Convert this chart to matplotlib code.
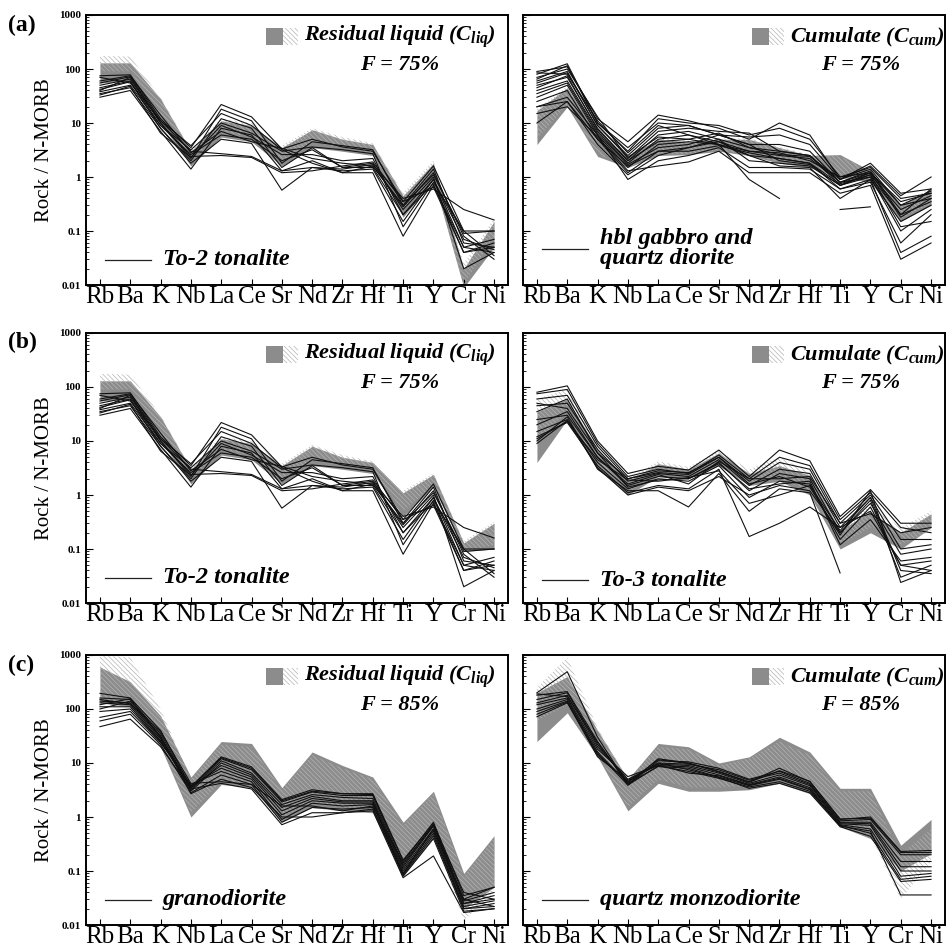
import matplotlib
matplotlib.use('Agg')
import matplotlib.pyplot as plt
import numpy as np
from matplotlib.ticker import LogLocator, NullFormatter

nan = np.nan

elements = ['Rb', 'Ba', 'K', 'Nb', 'La', 'Ce', 'Sr', 'Nd', 'Zr', 'Hf', 'Ti', 'Y', 'Cr', 'Ni']
ytick_vals = [0.01, 0.1, 1, 10, 100, 1000]
ytick_labels = ['0.01', '0.1', '1', '10', '100', '1000']

# sample patterns normalised to N-MORB
to2_tonalite = [
    [75, 78, 12, 3.5, 22, 13, 3.3, 5.0, 3.6, 3.0, 0.35, 1.6, 0.10, 0.035],
    [40, 70, 10, 2.2, 18, 11, 1.8, 4.5, 3.8, 3.2, 0.30, 1.4, 0.06, 0.05],
    [35, 45, 8, 2.0, 12, 8, 1.5, 3.5, 1.5, 1.8, 0.25, 1.0, 0.02, 0.04],
    [30, 40, 7, 1.4, 8, 6, 1.3, 2.0, 1.2, 1.2, 0.08, 0.7, 0.05, 0.04],
    [45, 60, 9, 2.6, 6, 5, 2.0, 3.2, 1.5, 1.5, 0.20, 0.9, 0.07, 0.045],
    [70, 55, 11, 3.0, 2.7, 2.4, 1.3, 1.5, 1.4, 1.7, 0.40, 0.6, 0.25, 0.16],
    [50, 65, 10, 2.4, 2.5, 2.3, 1.2, 1.3, 1.6, 1.9, 0.35, 0.65, 0.04, 0.06],
    [38, 50, 9, 3.2, 10, 6.5, 3.0, 3.6, 3.2, 2.7, 0.12, 0.8, 0.10, 0.10],
    [60, 75, 14, 2.8, 7, 4.5, 3.4, 2.2, 1.8, 1.6, 0.28, 1.2, 0.08, 0.03],
    [42, 58, 8, 1.8, 5, 4.2, 0.57, 1.5, 1.3, 1.4, 0.15, 0.9, 0.05, 0.07],
    [33, 48, 6.5, 2.3, 9, 5.5, 2.6, 2.6, 2.0, 2.2, 0.20, 0.75, 0.04, 0.05],
    [55, 72, 11, 3.8, 15, 9, 3.2, 1.8, 1.2, 1.6, 0.30, 1.1, 0.09, 0.10],
]

gabbro_diorite = [
    [90, 110, 12, 4.5, 14, 11, 8, 5, 10, 6, 0.9, 1.8, 0.5, 0.6],
    [80, 125, 10, 3.0, 12, 10, 9, 6, 8, 5, 1.0, 1.5, 0.4, 0.5],
    [60, 90, 9, 2.5, 8, 9, 6, 4, 4, 3, 0.8, 1.2, 0.3, 0.4],
    [50, 70, 8, 2.0, 6, 7, 5, 3.5, 3, 2.5, 0.7, 1.1, 0.25, 0.45],
    [40, 60, 7, 1.8, 5, 6, 4.5, 3, 2.5, 2.2, 0.8, 1.0, 0.2, 0.35],
    [30, 50, 6, 1.5, 4, 4.5, 4, 2.5, 2.2, 1.8, 0.6, 0.9, 0.15, 0.3],
    [25, 40, 5, 1.2, 3, 3.5, 5, 2, 1.8, 1.6, 0.7, 1.0, 0.1, 0.25],
    [20, 30, 6, 0.9, 2, 2.5, 3.5, 1.5, 1.5, 1.4, 0.6, 0.8, 0.06, 0.2],
    [15, 20, 5.5, 1.3, 1.6, 1.9, 3.0, 1.2, 1.2, 1.2, 0.5, 0.7, 0.03, 0.06],
    [70, 100, 13, 2.2, 7, 8, 7, 6.5, 3, 2.5, 0.8, 1.3, 0.2, 0.6],
    [85, 80, 11, 2.8, 9, 6, 4, 3, 2.8, 2.0, 1.0, 1.2, 0.35, 0.5],
    [45, 75, 7.5, 2.0, 4.5, 5, 4, 0.9, 0.4, nan, nan, nan, nan, nan],
    [35, 55, 6.5, 1.7, 3.5, 4.0, 6, 4, 2, 1.7, 0.7, 1.2, 0.18, 0.4],
    [55, 85, 9, 2.3, 5.5, 5, 6.5, 3.5, 2.6, 2.4, 0.9, 1.4, 0.3, 0.55],
    [nan, nan, nan, nan, nan, nan, nan, nan, nan, nan, 0.25, 0.28, nan, nan],
    [20, 25, 4, 1.1, 2.5, 3.5, 4.5, 2.5, 1.6, 1.5, 0.4, 0.9, 0.04, 0.08],
    [65, 115, 10, 3.5, 10, 9, 6, 5.5, 6, 4, 0.9, 1.6, 0.45, 1.0],
    [10, 25, 5, 1.6, 3, 3, 3.8, 2.8, 2.2, 1.8, 0.75, 1.1, 0.12, 0.15],
]

to3_tonalite = [
    [80, 105, 10, 2.5, 3.4, 2.9, 6.8, 2.2, 6.8, 4.3, 0.4, 1.26, 0.3, 0.3],
    [75, 90, 9, 2.2, 3.0, 2.5, 5.5, 2.0, 5.0, 3.5, 0.35, 1.1, 0.25, 0.2],
    [60, 70, 8, 2.0, 2.6, 2.4, 5.0, 1.8, 4.0, 3.0, 0.3, 1.0, 0.15, 0.15],
    [45, 50, 7, 1.8, 2.5, 2.2, 4.5, 1.5, 3.0, 2.5, 0.25, 0.9, 0.1, 0.12],
    [25, 30, 5, 1.5, 2.2, 2.0, 4.0, 1.2, 2.5, 2.0, 0.2, 0.7, 0.08, 0.1],
    [15, 25, 4, 1.3, 2.0, 1.8, 3.5, 0.9, 1.8, 1.6, 0.15, 0.6, 0.05, 0.06],
    [12, 22, 3.5, 1.1, 1.5, 1.3, 3.0, 0.17, 0.3, 0.6, 0.25, 0.5, 0.05, 0.04],
    [10, 28, 3.0, 1.2, 1.2, 0.6, 2.5, 0.5, 1.3, 1.1, 0.036, nan, nan, nan],
    [9, 24, 3.2, 1.0, 1.4, 1.2, 2.2, 1.0, 1.5, 1.2, 0.2, 0.8, 0.03, 0.05],
    [50, 40, 6, 2.0, 2.8, 2.6, 5.0, 1.6, 2.2, 1.4, 0.18, 1.2, 0.024, 0.04],
    [20, 35, 5, 1.6, 2.4, 1.6, 4.2, 2.0, 2.0, 2.2, 0.3, 0.45, 0.2, 0.25],
    [35, 60, 6, 1.4, 1.9, 2.0, 3.8, 1.3, 1.6, 1.8, 0.12, 0.35, 0.06, 0.07],
    [11, 23, 4.5, 1.9, 1.8, 2.1, 2.8, 0.7, 1.0, 1.5, 0.22, 0.9, 0.04, 0.035],
]

granodiorite = [
    [195, 160, 40, 3.6, 13, 8.5, 2.1, 3.2, 2.7, 2.7, 0.16, 0.75, 0.03, 0.05],
    [160, 150, 35, 3.4, 12, 7.5, 1.9, 2.9, 2.5, 2.5, 0.13, 0.7, 0.028, 0.04],
    [140, 130, 30, 3.2, 11, 6.5, 1.7, 2.6, 2.3, 2.2, 0.12, 0.68, 0.025, 0.035],
    [130, 120, 28, 3.0, 10, 6, 1.5, 2.4, 2.0, 2.0, 0.11, 0.6, 0.025, 0.03],
    [110, 110, 26, 3.5, 9, 5.5, 1.3, 2.2, 1.9, 1.9, 0.10, 0.55, 0.022, 0.028],
    [90, 100, 25, 3.8, 8, 5, 1.1, 2.0, 1.8, 1.8, 0.09, 0.5, 0.02, 0.025],
    [70, 90, 24, 4.0, 7, 4.5, 0.9, 1.8, 1.6, 1.7, 0.085, 0.45, 0.02, 0.022],
    [60, 80, 22, 2.8, 6, 4.0, 0.8, 1.5, 1.4, 1.5, 0.08, 0.4, 0.018, 0.02],
    [47, 65, 20, 3.3, 4.2, 3.3, 0.72, 1.2, 1.2, 1.3, 0.075, 0.19, 0.017, 0.02],
    [100, 140, 32, 2.7, 5, 3.5, 1.0, 1.0, 1.2, 1.4, 0.09, 0.6, 0.03, 0.022],
    [150, 125, 38, 4.2, 4.5, 4, 1.6, 1.6, 1.3, 1.6, 0.14, 0.72, 0.04, 0.03],
    [120, 155, 30, 3.6, 12.5, 8, 2.0, 3.0, 2.7, 2.6, 0.15, 0.8, 0.035, 0.05],
]

qz_monzodiorite = [
    [200, 490, 30, 4.0, 12, 10, 7, 4.5, 8, 4.5, 0.9, 1.0, 0.23, 0.24],
    [180, 210, 25, 3.9, 11, 10.5, 8, 5, 7, 4.2, 0.85, 0.9, 0.2, 0.2],
    [150, 200, 22, 4.5, 10, 9.5, 7.5, 4.8, 6.5, 4, 0.8, 0.8, 0.15, 0.15],
    [130, 180, 20, 5.0, 9.5, 9, 6.5, 4.2, 6, 3.8, 0.78, 0.75, 0.12, 0.12],
    [120, 160, 18, 5.6, 9, 8.5, 6, 4, 5.5, 3.5, 0.75, 0.7, 0.1, 0.1],
    [100, 150, 16, 4.2, 8.6, 8, 5.5, 3.8, 5, 3.2, 0.72, 0.6, 0.08, 0.09],
    [90, 140, 15, 3.9, 8.8, 7, 5.2, 3.6, 4.5, 3.0, 0.7, 0.5, 0.07, 0.08],
    [72, 130, 14, 4.5, 10, 7.5, 5.4, 3.4, 4.2, 2.8, 0.66, 0.44, 0.064, 0.07],
    [80, 135, 13, 4.8, 9.2, 6.5, 5.8, 3.9, 5.2, 3.3, 0.68, 0.55, 0.036, 0.036],
    [190, 170, 24, 4.4, 11.5, 9.8, 6.8, 4.4, 7.2, 4.6, 0.92, 0.95, 0.22, 0.22],
]

# model envelopes: solid grey band and hatched band (low, high)
liq75a_grey_lo = [55, 60, 10, 1.6, 5.5, 4.5, 1.6, 3.5, 3.0, 2.5, 0.18, 0.9, 0.009, 0.05]
liq75a_grey_hi = [130, 130, 28, 3.0, 11, 9, 3.5, 7.5, 5, 4, 0.45, 1.8, 0.02, 0.15]
liq75a_hatch_lo = [90, 90, 14, 2.0, 7, 5.5, 2.0, 4.5, 3.5, 2.8, 0.25, 1.0, 0.01, 0.08]
liq75a_hatch_hi = [175, 170, 30, 3.2, 12, 10, 3.8, 8, 5.5, 4.2, 0.5, 2.0, 0.025, 0.17]

cum75a_grey_lo = [4.0, 20, 2.4, 1.5, 2.5, 2.6, 3.0, 2.5, 1.8, 1.5, 1.0, 0.8, 0.15, 0.3]
cum75a_grey_hi = [17, 45, 6, 2.5, 5, 4.5, 5, 5, 3.5, 2.5, 2.6, 1.3, 0.3, 0.6]
cum75a_hatch_lo = [5, 22, 2.6, 1.6, 2.6, 2.7, 3.1, 2.6, 1.9, 1.6, 0.9, 0.8, 0.17, 0.32]
cum75a_hatch_hi = [18, 48, 6.2, 2.6, 5.2, 4.7, 5.2, 5.2, 3.6, 2.6, 2.4, 1.35, 0.32, 0.62]

liq75b_grey_lo = [55, 60, 10, 1.6, 5.5, 4.5, 1.6, 3.5, 3.0, 2.5, 0.40, 1.4, 0.09, 0.10]
liq75b_grey_hi = [130, 130, 28, 3.0, 11, 9, 3.5, 8, 5, 4, 1.1, 2.4, 0.13, 0.30]
liq75b_hatch_lo = [90, 90, 14, 2, 7, 5.5, 2, 4.5, 3.5, 2.8, 0.5, 1.5, 0.09, 0.12]
liq75b_hatch_hi = [175, 170, 30, 3.2, 12, 10, 3.8, 8.5, 5.5, 4.2, 1.2, 2.5, 0.14, 0.32]

cum75b_grey_lo = [4, 25, 3.0, 1.0, 2.2, 2.0, 3.5, 1.5, 1.8, 1.0, 0.10, 0.20, 0.10, 0.25]
cum75b_grey_hi = [35, 60, 7, 1.8, 3.8, 3.0, 6.0, 2.5, 3.5, 2.3, 0.22, 0.5, 0.20, 0.45]
cum75b_hatch_lo = [10, 35, 3.5, 1.1, 2.4, 2.2, 3.8, 1.7, 2.0, 1.2, 0.12, 0.25, 0.12, 0.22]
cum75b_hatch_hi = [60, 90, 8, 2.0, 4.2, 3.3, 6.5, 3.0, 5.0, 2.6, 0.3, 0.6, 0.25, 0.5]

liq85_grey_lo = [130, 110, 20, 1.0, 4.0, 3.5, 0.8, 1.5, 1.3, 1.2, 0.08, 0.4, 0.02, 0.05]
liq85_grey_hi = [600, 320, 75, 5.5, 25, 23, 3.5, 16, 9, 5.5, 0.8, 3.0, 0.09, 0.45]
liq85_hatch_lo = [150, 120, 22, 1.2, 4.5, 4, 1.0, 1.8, 1.5, 1.3, 0.09, 0.45, 0.012, 0.04]
liq85_hatch_hi = [1000, 900, 100, 5, 22, 20, 3.2, 14, 8, 5, 0.7, 2.7, 0.08, 0.4]

cum85_grey_lo = [25, 85, 13, 1.3, 4.2, 3.0, 3.0, 3.2, 4.2, 2.7, 0.66, 0.4, 0.1, 0.21]
cum85_grey_hi = [200, 400, 40, 5.0, 23, 20, 10, 13, 30, 16, 3.4, 3.4, 0.3, 0.9]
cum85_hatch_lo = [60, 120, 15, 1.5, 5, 3.5, 3.5, 3.8, 5, 3, 0.7, 0.45, 0.03, 0.15]
cum85_hatch_hi = [250, 900, 45, 5, 20, 18, 9, 12, 25, 14, 3, 3, 0.2, 0.6]

plt.rcParams['font.family'] = 'Liberation Serif'
plt.rcParams['mathtext.fontset'] = 'custom'
plt.rcParams['mathtext.rm'] = 'Liberation Serif'
plt.rcParams['mathtext.it'] = 'Liberation Serif:italic'
plt.rcParams['mathtext.bf'] = 'Liberation Serif:bold'
plt.rcParams['mathtext.bfit'] = 'Liberation Serif:italic:bold'
plt.rcParams['hatch.linewidth'] = 0.5

GREY = '#8c8c8c'
HATCH = '#b4b4b4'
HATCH_PAT = '\\' * 7

fig = plt.figure(figsize=(9.46, 9.47), dpi=100)
W, H = 946, 947


def add_panel(left, top):
    # pixel box -> figure fraction
    return fig.add_axes([left / W, (H - top - 270) / H, 422 / W, 270 / H])


def draw_panel(ax, lines, grey_lo, grey_hi, hatch_lo, hatch_hi,
               model, frac, rock, show_y, rock_y=0.093):
    x = np.arange(len(elements))
    ax.fill_between(x, grey_lo, grey_hi, color=GREY, lw=0, zorder=1)
    ax.fill_between(x, hatch_lo, hatch_hi, facecolor='none', edgecolor=HATCH,
                    hatch=HATCH_PAT, lw=0, zorder=2)
    for row in lines:
        ax.plot(x, row, color='#111111', lw=0.8, zorder=3)

    ax.set_yscale('log')
    ax.set_ylim(0.01, 1000)
    ax.set_xlim(-0.46, 13.46)
    ax.set_xticks(x)
    ax.set_xticklabels(elements, fontsize=18)
    ax.tick_params(axis='x', direction='in', length=4, pad=1, top=False)
    ax.yaxis.set_minor_locator(LogLocator(base=10, subs=np.arange(2, 10), numticks=20))
    ax.yaxis.set_minor_formatter(NullFormatter())
    ax.set_yticks(ytick_vals)
    ax.tick_params(axis='y', which='major', direction='in', length=5, width=0.8)
    ax.tick_params(axis='y', which='minor', direction='in', length=2.5, width=0.6)
    if show_y:
        ax.set_yticklabels(ytick_labels, fontsize=8, fontweight='bold')
        ax.set_ylabel('Rock / N-MORB', fontsize=15, labelpad=4)
    else:
        ax.set_yticklabels([])
    for s in ax.spines.values():
        s.set_linewidth(1.4)

    # model key in the upper right
    kx = 0.427 if show_y else 0.543
    ax.add_patch(plt.Rectangle((kx, 0.89), 0.04, 0.062, transform=ax.transAxes,
                               facecolor=GREY, lw=0, zorder=4))
    ax.add_patch(plt.Rectangle((kx + 0.04, 0.89), 0.035, 0.062, transform=ax.transAxes,
                               facecolor='white', edgecolor=HATCH, hatch=HATCH_PAT,
                               lw=0, zorder=4))
    ax.text(kx + 0.09, 0.918, model, transform=ax.transAxes, fontsize=16,
            ha='left', va='center', zorder=5)
    ax.text(0.744 if show_y else 0.80, 0.815, frac, transform=ax.transAxes,
            fontsize=16, fontweight='bold', style='italic', ha='center', va='center')

    # sample key in the lower left
    ax.plot([0.045, 0.155], [rock_y, rock_y], transform=ax.transAxes,
            color='#222222', lw=0.9)
    ax.text(0.182, rock_y, rock, transform=ax.transAxes, fontsize=17.5,
            fontweight='bold', style='italic', ha='left', va='center',
            linespacing=0.95)


liq_label = r'$\mathbfit{Residual\ liquid\ (C_{liq})}$'
cum_label = r'$\mathbfit{Cumulate\ (C_{cum})}$'

ax = add_panel(86, 15)
draw_panel(ax, to2_tonalite, liq75a_grey_lo, liq75a_grey_hi, liq75a_hatch_lo,
           liq75a_hatch_hi, liq_label, 'F = 75%', 'To-2 tonalite', True)
ax = add_panel(523, 15)
draw_panel(ax, gabbro_diorite, cum75a_grey_lo, cum75a_grey_hi, cum75a_hatch_lo,
           cum75a_hatch_hi, cum_label, 'F = 75%', 'hbl gabbro and\nquartz diorite',
           False, rock_y=0.135)

ax = add_panel(86, 333)
draw_panel(ax, to2_tonalite, liq75b_grey_lo, liq75b_grey_hi, liq75b_hatch_lo,
           liq75b_hatch_hi, liq_label, 'F = 75%', 'To-2 tonalite', True)
ax = add_panel(523, 333)
draw_panel(ax, to3_tonalite, cum75b_grey_lo, cum75b_grey_hi, cum75b_hatch_lo,
           cum75b_hatch_hi, cum_label, 'F = 75%', 'To-3 tonalite', False, rock_y=0.085)

ax = add_panel(86, 655)
draw_panel(ax, granodiorite, liq85_grey_lo, liq85_grey_hi, liq85_hatch_lo,
           liq85_hatch_hi, liq_label, 'F = 85%', 'granodiorite', True)
ax = add_panel(523, 655)
draw_panel(ax, qz_monzodiorite, cum85_grey_lo, cum85_grey_hi, cum85_hatch_lo,
           cum85_hatch_hi, cum_label, 'F = 85%', 'quartz monzodiorite', False)

for lab, ypx in [('(a)', 25), ('(b)', 342), ('(c)', 665)]:
    fig.text(8 / W, 1 - ypx / H, lab, fontsize=17, fontweight='bold',
             ha='left', va='center')

fig.savefig('out.png', dpi=100)
